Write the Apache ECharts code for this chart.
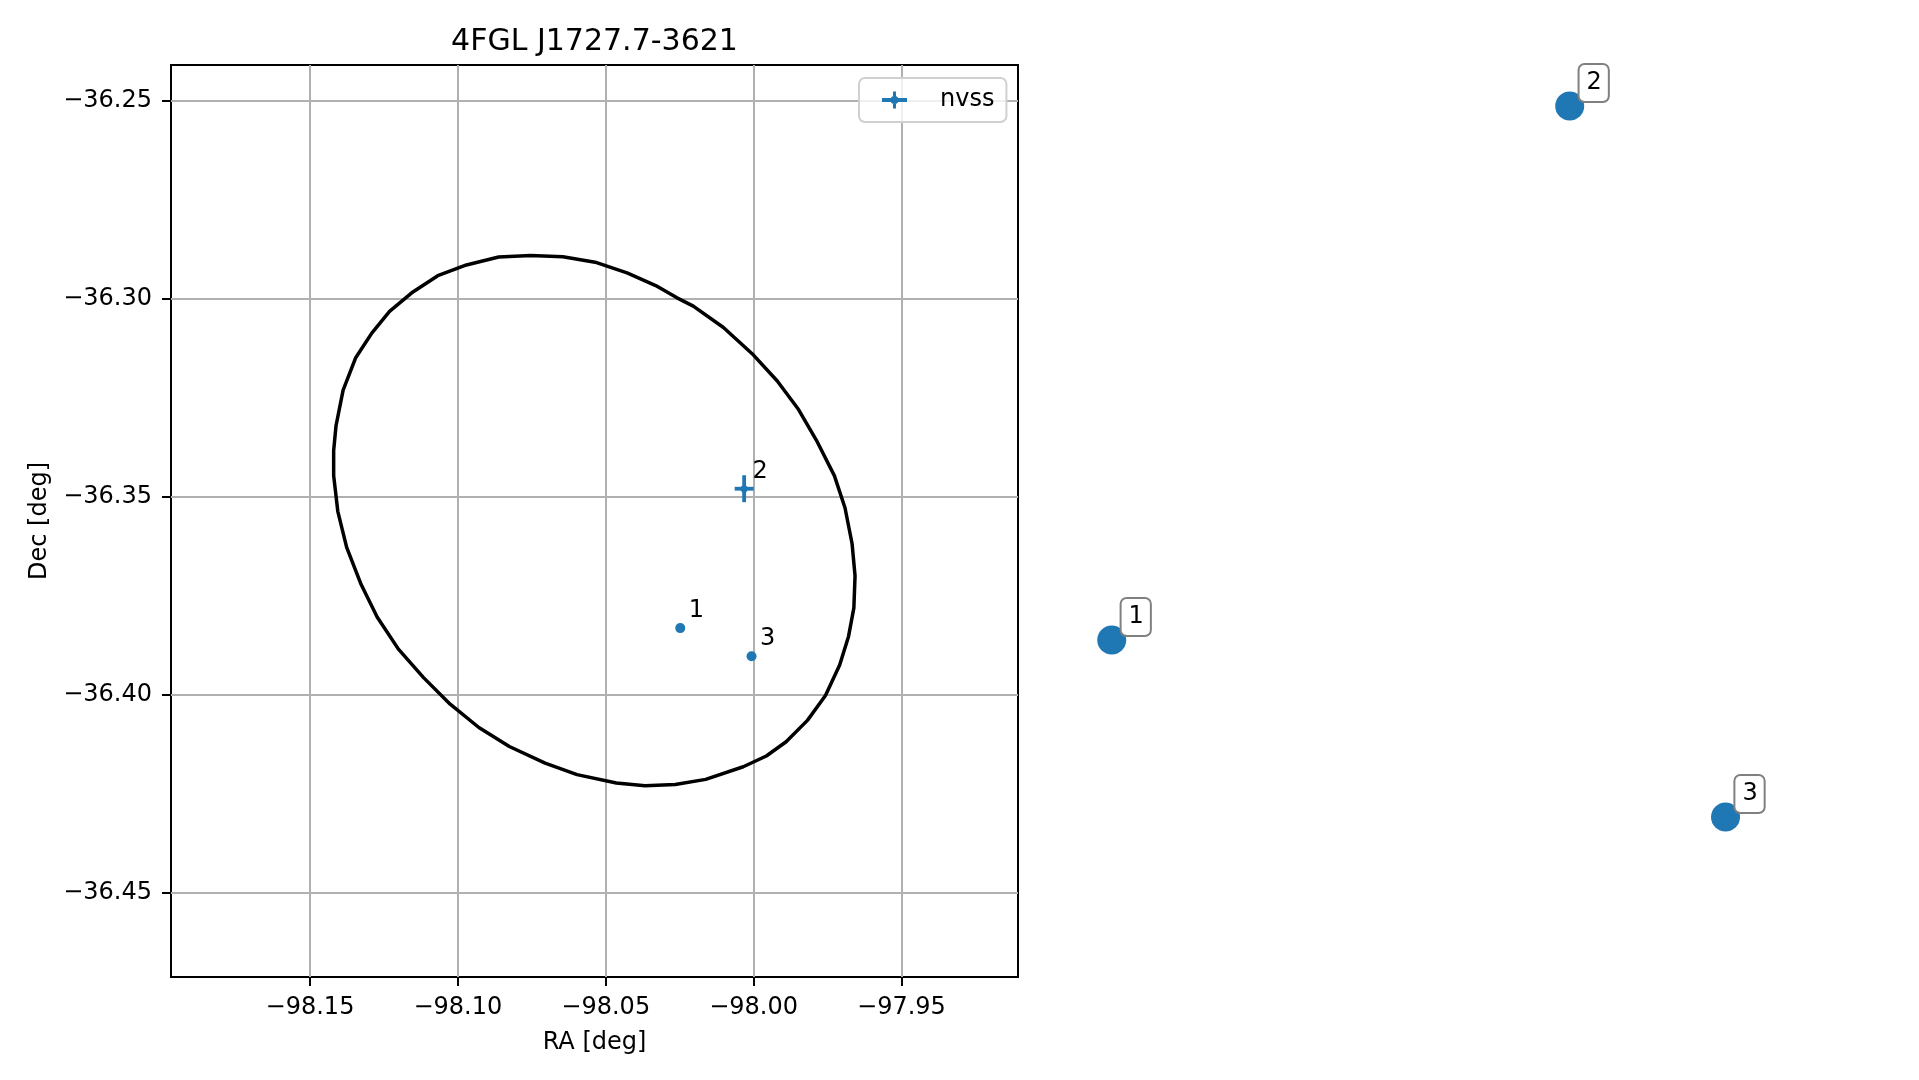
<!DOCTYPE html>
<html>
<head>
<meta charset="utf-8">
<script src="https://cdn.jsdelivr.net/npm/echarts@6/dist/echarts.min.js"></script>
<style>
html,body{margin:0;padding:0;background:#fff;}
#chart{width:1919px;height:1080px;}
</style>
</head>
<body>
<div id="chart"></div>
<script>
// ---- data ----
const titleText = '4FGL J1727.7-3621';
const xTicks = [-98.15, -98.10, -98.05, -98.00, -97.95];
const yTicks = [-36.45, -36.40, -36.35, -36.30, -36.25];

// 95% ellipse outline (RA, Dec)
const ellipseRA = [-98.0754, -98.0645, -98.0536, -98.0428, -98.0331, -98.0259, -98.0204, -98.0102, -98.0005, -97.9920,
  -97.9848, -97.9788, -97.9727, -97.9691, -97.9667, -97.9657, -97.9661, -97.9679, -97.9709, -97.9757,
  -97.9818, -97.9890, -97.9957, -98.0035, -98.0162, -98.0265, -98.0367, -98.0464, -98.0597, -98.0705,
  -98.0826, -98.0929, -98.1026, -98.1116, -98.1201, -98.1273, -98.1327, -98.1376, -98.1406, -98.1420,
  -98.1420, -98.1412, -98.1388, -98.1346, -98.1291, -98.1231, -98.1152, -98.1068, -98.0971, -98.0862];
const ellipseDec = [-36.2891, -36.2894, -36.2908, -36.2935, -36.2967, -36.2998, -36.3019, -36.3073, -36.3139, -36.3208,
  -36.3280, -36.3357, -36.3447, -36.3528, -36.3619, -36.3700, -36.3781, -36.3853, -36.3925, -36.4002,
  -36.4065, -36.4119, -36.4155, -36.4182, -36.4214, -36.4227, -36.4230, -36.4223, -36.4202, -36.4173,
  -36.4131, -36.4083, -36.4024, -36.3957, -36.3885, -36.3804, -36.3722, -36.3628, -36.3537, -36.3447,
  -36.3384, -36.3321, -36.3231, -36.3150, -36.3087, -36.3032, -36.2983, -36.2942, -36.2915, -36.2895];

// nvss source with errors
const nvssLabels = ['2'];
const nvssRA = [-98.0032];
const nvssDec = [-36.3480];
const nvssRAErr = [0.0032];
const nvssDecErr = [0.0034];

// other sources (no errors)
const otherLabels = ['1', '3'];
const otherRA = [-98.0248, -98.0007];
const otherDec = [-36.3832, -36.3903];

// right-hand panel (hidden axes, normalised coordinates)
const panelLabels = ['1', '2', '3'];
const panelX = [0.0854, 0.6306, 0.8161];
const panelY = [0.3695, 0.9550, 0.1754];

// ---- chart ----
const BLUE = '#1f77b4';
const FONT = 'DejaVu Sans';
const fmt = v => (v < 0 ? '\u2212' : '') + Math.abs(v).toFixed(2);

const ellipseData = ellipseRA.map((x, i) => [x, ellipseDec[i]]);
ellipseData.push([ellipseRA[0], ellipseDec[0]]);

const nvssData = nvssRA.map((x, i) => ({name: nvssLabels[i], value: [x, nvssDec[i], nvssRAErr[i], nvssDecErr[i]]}));
const otherData = otherRA.map((x, i) => ({name: otherLabels[i], value: [x, otherDec[i]]}));
const panelData = panelX.map((x, i) => ({name: panelLabels[i], value: [x, panelY[i]]}));

const legendIcon = 'path://M11,0 L14,0 L14,6.5 L25,6.5 L25,10.5 L14,10.5 L14,17 L11,17 L11,10.5 L0,10.5 L0,6.5 L11,6.5 Z M8.5,8.5 A4,4 0 0,1 16.5,8.5 A4,4 0 0,1 8.5,8.5 Z';

const chart = echarts.init(document.getElementById('chart'), null, {renderer: 'canvas'});
chart.setOption({
  animation: false,
  backgroundColor: '#ffffff',
  textStyle: {fontFamily: FONT, color: '#000'},
  title: {
    text: titleText,
    left: 594.5,
    top: 27,
    padding: 0,
    textAlign: 'center',
    textStyle: {fontFamily: FONT, fontSize: 30, fontWeight: 'normal', color: '#000', lineHeight: 30}
  },
  legend: {
    left: 859,
    top: 78,
    orient: 'horizontal',
    padding: [10, 12, 10, 23],
    backgroundColor: 'rgba(255,255,255,0.8)',
    borderColor: '#d0d0d0',
    borderWidth: 2,
    borderRadius: 6,
    itemWidth: 25,
    itemHeight: 17,
    selectedMode: false,
    textStyle: {fontFamily: FONT, fontSize: 24, color: '#000', padding: [0, 0, 0, 28], lineHeight: 24},
    data: [{name: 'nvss', icon: legendIcon}]
  },
  grid: [
    {left: 171, top: 65, width: 847, height: 912, show: true, borderColor: '#000', borderWidth: 2, backgroundColor: 'transparent', containLabel: false, outerBoundsMode: 'none'},
    {left: 1040, top: 65, width: 840, height: 912, show: false, containLabel: false, outerBoundsMode: 'none'}
  ],
  xAxis: [
    {
      type: 'value', gridIndex: 0, min: -98.197, max: -97.9106, splitNumber: 5, scale: true,
      name: 'RA [deg]', nameLocation: 'middle', nameGap: 54,
      nameTextStyle: {fontFamily: FONT, fontSize: 24, color: '#000'},
      axisLine: {show: false},
      axisTick: {show: true, inside: false, length: 9, lineStyle: {color: '#000', width: 2}, customValues: xTicks},
      axisLabel: {show: true, margin: 19, fontFamily: FONT, fontSize: 24, color: '#000', customValues: xTicks, formatter: fmt},
      splitLine: {show: true, lineStyle: {color: '#b0b0b0', width: 2}}
    },
    {type: 'value', gridIndex: 1, min: 0, max: 1, show: false}
  ],
  yAxis: [
    {
      type: 'value', gridIndex: 0, min: -36.4713, max: -36.2410, splitNumber: 5, scale: true,
      name: 'Dec [deg]', nameLocation: 'middle', nameGap: 119,
      nameTextStyle: {fontFamily: FONT, fontSize: 24, color: '#000'},
      axisLine: {show: false},
      axisTick: {show: true, inside: false, length: 9, lineStyle: {color: '#000', width: 2}, customValues: yTicks},
      axisLabel: {show: true, margin: 19, fontFamily: FONT, fontSize: 24, color: '#000', customValues: yTicks, formatter: fmt},
      splitLine: {show: true, lineStyle: {color: '#b0b0b0', width: 2}}
    },
    {type: 'value', gridIndex: 1, min: 0, max: 1, show: false}
  ],
  series: [
    {
      name: 'ellipse', type: 'line', xAxisIndex: 0, yAxisIndex: 0,
      data: ellipseData, showSymbol: false, symbol: 'none', smooth: false,
      lineStyle: {color: '#000', width: 3.5, join: 'round'}, itemStyle: {color: '#000'}, z: 3, silent: true
    },
    {
      name: 'others', type: 'scatter', xAxisIndex: 0, yAxisIndex: 0,
      data: otherData, symbol: 'circle', symbolSize: 10,
      itemStyle: {color: BLUE, opacity: 1},
      label: {show: true, position: 'inside', offset: [16, -17], formatter: p => p.name,
        fontFamily: FONT, fontSize: 24, color: '#000', opacity: 1},
      emphasis: {disabled: true},
      z: 4
    },
    {
      name: 'nvss', type: 'custom', xAxisIndex: 0, yAxisIndex: 0,
      itemStyle: {color: BLUE},
      data: nvssData,
      renderItem: function (params, api) {
        const x = api.value(0), y = api.value(1), ex = api.value(2), ey = api.value(3);
        const c = api.coord([x, y]);
        const l = api.coord([x - ex, y]), r = api.coord([x + ex, y]);
        const t = api.coord([x, y + ey]), b = api.coord([x, y - ey]);
        return {
          type: 'group',
          children: [
            {type: 'line', shape: {x1: l[0], y1: l[1], x2: r[0], y2: r[1]}, style: {stroke: BLUE, lineWidth: 3.8}},
            {type: 'line', shape: {x1: t[0], y1: t[1], x2: b[0], y2: b[1]}, style: {stroke: BLUE, lineWidth: 3.8}},
            {type: 'circle', shape: {cx: c[0], cy: c[1], r: 3.6}, style: {fill: BLUE}},
            {type: 'text', x: c[0] + 16, y: c[1] - 17,
              style: {text: nvssLabels[params.dataIndex], fontFamily: FONT, fontSize: 24, fill: '#000', align: 'center', verticalAlign: 'middle'}}
          ]
        };
      },
      z: 5
    },
    {
      name: 'panel', type: 'scatter', xAxisIndex: 1, yAxisIndex: 1,
      data: panelData, symbol: 'circle', symbolSize: 29,
      itemStyle: {color: BLUE, opacity: 1},
      label: {
        show: true, position: 'inside', offset: [24, -23], formatter: p => p.name,
        fontFamily: FONT, fontSize: 24, color: '#000', lineHeight: 28, opacity: 1,
        backgroundColor: '#ffffff', borderColor: '#808080', borderWidth: 2, borderRadius: 5,
        padding: [4, 6, 4, 7]
      },
      emphasis: {disabled: true},
      z: 4
    }
  ]
});
</script>
</body>
</html>
